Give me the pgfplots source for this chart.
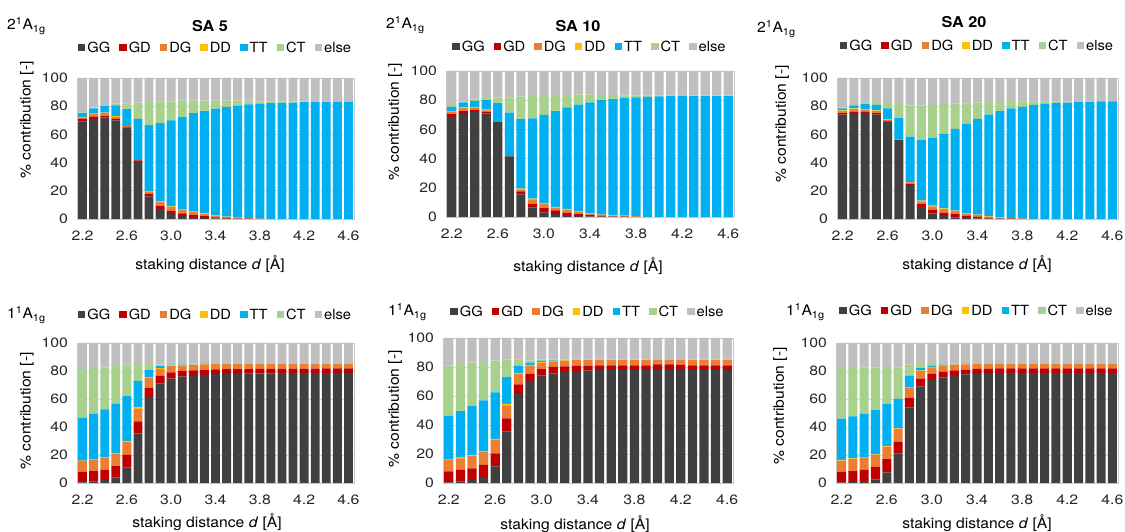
\documentclass[border=0pt]{standalone}
\usepackage{fontspec}
\setmainfont{TeX Gyre Heros}[FakeStretch=1.08]
\newfontfamily\tickfont{TeX Gyre Heros}[FakeStretch=1.17]
\newfontfamily\legfont{TeX Gyre Heros}[FakeStretch=1.05]
\usepackage{pgfplots}
\usepackage{pgfplotstable}
\pgfplotsset{compat=1.18}

\definecolor{cGG}{HTML}{404040}
\definecolor{cGD}{HTML}{C00000}
\definecolor{cDG}{HTML}{ED7D31}
\definecolor{cDD}{HTML}{FFC000}
\definecolor{cTT}{HTML}{00B0F0}
\definecolor{cCT}{HTML}{A9D18E}
\definecolor{cEL}{HTML}{BFBFBF}

% 2^1A_1g, SA 5
\pgfplotstableread{
d GG GD DG DD TT CT EL
2.2 69 2 1 0.5 2.5 0.5 24.5
2.3 71 1.5 2 0.5 3.5 0.5 21
2.4 72 1 2 0.5 4.5 1 19
2.5 70 1 1.5 0.5 7.5 1.5 18
2.6 65 0.3 0.7 0 12 4 18
2.7 41 0.5 0.5 0 29 11.5 17.5
2.8 16 2 1.5 0.5 46.5 16.5 17
2.9 7 2.5 2.5 0.5 55.5 15.5 16.5
3.0 3.5 2.5 2.5 0.5 61 13.5 16.5
3.1 2 2 2.5 0.5 65.5 11.5 16
3.2 1.3 1.7 2 0.5 69.5 9 16
3.3 0.8 1.2 1.5 0.5 72.5 7.5 16
3.4 0.5 0.7 1.1 0.3 75.6 5.8 16
3.5 0.3 0.4 0.7 0.2 77.9 4.5 16
3.6 0.2 0.2 0.4 0.1 79.4 3.7 16
3.7 0.1 0.1 0.3 0 80.8 2.7 16
3.8 0 0.1 0.2 0 81.4 1.8 16.5
3.9 0 0 0.1 0 82.1 1.1 16.7
4.0 0 0 0 0 82.4 0.8 16.8
4.1 0 0 0 0 82.6 0.6 16.8
4.2 0 0 0 0 82.9 0.4 16.7
4.3 0 0 0 0 83 0.3 16.7
4.4 0 0 0 0 83 0.3 16.7
4.5 0 0 0 0 83.3 0.2 16.5
4.6 0 0 0 0 83.3 0.2 16.5
}\twoSAfive

% 2^1A_1g, SA 10
\pgfplotstableread{
d GG GD DG DD TT CT EL
2.2 68.5 2 1.5 0.5 3 0.5 24
2.3 70.5 2 2 0.5 3.5 0.5 21
2.4 72 1.5 1.5 0.5 4 1 19.5
2.5 71 1 1 0.5 6.5 1.5 18.5
2.6 65 0.3 0.3 0 12.4 4 18
2.7 41.5 0.5 0.3 0 29.2 10.5 18
2.8 15.5 2 1.5 0.5 47.5 15.5 17.5
2.9 6.5 2.5 3 0.5 55 15.5 17
3.0 3 3 3 0.5 60.5 13 17
3.1 2 2.5 2 0.5 65.5 11 16.5
3.2 1.2 1.8 2 0.5 69.5 8.5 16.5
3.3 0.8 1.2 1.5 0.5 73 7 16
3.4 0.5 0.7 1.1 0.3 75.9 5.5 16
3.5 0.3 0.4 0.7 0.2 78.4 3.5 16.5
3.6 0.2 0.2 0.6 0.2 79.5 2.8 16.5
3.7 0.1 0.2 0.4 0.2 80.6 1.8 16.7
3.8 0 0.1 0.3 0.1 81.5 1.2 16.8
3.9 0 0 0.1 0 82.2 0.9 16.8
4.0 0 0 0 0 82.6 0.6 16.8
4.1 0 0 0 0 82.8 0.4 16.8
4.2 0 0 0 0 83 0.3 16.7
4.3 0 0 0 0 82.8 0.4 16.8
4.4 0 0 0 0 82.8 0.4 16.8
4.5 0 0 0 0 82.8 0.4 16.8
4.6 0 0 0 0 82.8 0.4 16.8
}\twoSAten

% 2^1A_1g, SA 20
\pgfplotstableread{
d GG GD DG DD TT CT EL
2.2 74 1 1.5 0.5 1.5 0.5 21
2.3 75 1 2 0.5 2 0.5 19
2.4 75 1 1.5 0.5 3.5 1 17.5
2.5 74 1 1.5 0.5 4 2 17
2.6 69 0.5 1 0.2 7.8 4.5 17
2.7 56 0.2 0.2 0 15.1 10 18.5
2.8 24 1 1 0.2 32.3 22 19.5
2.9 8.5 2 2 0.5 43 24.5 19.5
3.0 4 2.5 2.5 0.5 48 23.5 19
3.1 2.2 2.3 2.5 0.5 53 21 18.5
3.2 1.2 2.3 2 0.5 58 18 18
3.3 0.8 1.4 1.6 0.4 63.3 14.5 18
3.4 0.5 1 1.2 0.4 67.9 11.5 17.5
3.5 0.3 0.5 0.9 0.3 72 9 17
3.6 0.2 0.3 0.5 0.2 75.3 6.5 17
3.7 0.1 0.2 0.3 0.1 77.8 4.5 17
3.8 0 0.1 0.2 0 79.2 4 16.5
3.9 0 0 0.1 0 80.9 2.5 16.5
4.0 0 0 0 0 81.8 1.7 16.5
4.1 0 0 0 0 82.3 1 16.7
4.2 0 0 0 0 82.6 0.9 16.5
4.3 0 0 0 0 83 0.5 16.5
4.4 0 0 0 0 83 0.5 16.5
4.5 0 0 0 0 83.5 0.2 16.3
4.6 0 0 0 0 83.5 0.2 16.3
}\twoSAtwenty

% 1^1A_1g, SA 5
\pgfplotstableread{
d GG GD DG DD TT CT EL
2.2 0.5 7.5 7.8 0.2 30.5 35 18.5
2.3 1 7.5 8 0.5 32.5 32.5 18
2.4 2 7.5 8.5 0.5 34 30 17.5
2.5 4 8 9 0.5 35 27 16.5
2.6 11 9 9.5 0.5 32 22.5 15.5
2.7 35.5 8.5 9 1 19 12 15
2.8 61.5 6.5 7 0.5 5.5 4 15
2.9 71 5.5 5 0.5 1.5 1 15.5
3.0 74.5 4.5 4.5 0.5 0.5 0.5 15
3.1 76 4 4 0.3 0.3 0.4 15
3.2 76.5 4 3.8 0.3 0.2 0.4 14.8
3.3 77.3 3.4 4 0.3 0.2 0.1 14.7
3.4 77.8 3.4 3.8 0.2 0.1 0.1 14.6
3.5 78 3.3 3.7 0.2 0.1 0.1 14.6
3.6 78 3.3 3.7 0.2 0.1 0.1 14.6
3.7 78.2 3.2 3.6 0.2 0.1 0.1 14.6
3.8 78.2 3.3 3.5 0.2 0 0.1 14.7
3.9 78.3 3.3 3.4 0.2 0 0.1 14.7
4.0 78.5 3.2 3.3 0.2 0 0.1 14.7
4.1 78.5 3.2 3.3 0.2 0 0.1 14.7
4.2 78.6 3.1 3.3 0.2 0 0.1 14.7
4.3 78.6 3.1 3.3 0.2 0 0.1 14.7
4.4 78.7 3.1 3.2 0.2 0 0.1 14.7
4.5 78.7 3.1 3.2 0.2 0 0.1 14.7
4.6 78.7 3.1 3.2 0.2 0 0.1 14.7
}\oneSAfive

% 1^1A_1g, SA 10
\pgfplotstableread{
d GG GD DG DD TT CT EL
2.2 0.5 7.5 7.8 0.4 30.3 34.5 19
2.3 1.2 7.8 8 0.5 32 32.5 18
2.4 2 8 8.5 0.5 34 30 17
2.5 4 8.5 9 0.5 35 26.5 16.5
2.6 11.5 9 9 1 32 22 15.5
2.7 35.5 9 9 1 18.5 12 15
2.8 61.5 6.5 7.5 0.5 5 4 15
2.9 70.5 5 5.5 0.5 1.5 1.5 15.5
3.0 74 4.5 4.5 0.5 0.7 0.8 15
3.1 75.5 4.5 3.8 0.4 0.4 0.4 15
3.2 76.5 4 3.8 0.3 0.2 0.2 15
3.3 77.2 3.8 3.8 0.2 0.1 0.2 14.7
3.4 77.5 3.5 3.8 0.2 0.1 0.1 14.8
3.5 78 3.2 3.6 0.2 0.1 0.1 14.8
3.6 78 3.2 3.6 0.2 0 0.1 14.9
3.7 78 3.2 3.6 0.2 0 0.1 14.9
3.8 78 3.2 3.6 0.2 0 0.1 14.9
3.9 78 3.2 3.6 0.2 0 0.1 14.9
4.0 78 3.8 3.2 0.2 0 0.1 14.7
4.1 78 3.8 3.2 0.2 0 0.1 14.7
4.2 78.5 3.2 3.3 0.2 0 0.1 14.7
4.3 78 3.2 3.5 0.2 0 0.1 15
4.4 78 3.2 3.5 0.2 0 0.1 15
4.5 78 3.2 3.5 0.2 0 0.1 15
4.6 78 3.2 3.5 0.2 0 0.1 15
}\oneSAten

% 1^1A_1g, SA 20
\pgfplotstableread{
d GG GD DG DD TT CT EL
2.2 0.3 7.7 8 0.5 29.5 36 18
2.3 0.7 7.8 8.5 0.5 30 34.5 18
2.4 1.3 8.2 8.5 0.5 31 33 17.5
2.5 2.5 9 8.5 0.5 31.5 30.5 17.5
2.6 7.5 9.5 9 0.5 30 26.5 17
2.7 21 8.5 9 0.5 21 22.5 17.5
2.8 54 7 7 0.5 8 8 15.5
2.9 69 5.5 5.5 0.5 1.5 3 15
3.0 73.5 4.5 4.5 0.5 0.7 1.3 15
3.1 75.5 4 4.5 0.3 0.3 0.4 15
3.2 76.5 4 4 0.2 0.2 0.3 14.8
3.3 77.5 3.5 3.8 0.2 0.2 0.1 14.7
3.4 78 3.5 3.5 0.2 0.1 0.1 14.6
3.5 78 3.5 3.5 0.2 0.1 0.1 14.6
3.6 78.5 3.3 3.4 0.2 0 0.1 14.5
3.7 78.5 3.3 3.4 0.2 0 0.1 14.5
3.8 78.5 3.3 3.4 0.2 0 0.1 14.5
3.9 78.5 3.3 3.4 0.2 0 0.1 14.5
4.0 78.5 3.3 3.4 0.2 0 0.1 14.5
4.1 78.5 3.3 3.4 0.2 0 0.1 14.5
4.2 78.5 3.3 3.4 0.2 0 0.1 14.5
4.3 78.5 3.3 3.4 0.2 0 0.1 14.5
4.4 78.5 3.3 3.4 0.2 0 0.1 14.5
4.5 78.5 3.3 3.4 0.2 0 0.1 14.5
4.6 78.5 3.3 3.4 0.2 0 0.1 14.5
}\oneSAtwenty

\pgfplotsset{
  contrib/.style={
    scale only axis,
    ybar stacked,
    bar width=0.08,
    xmin=2.15, xmax=4.65,
    ymin=0, ymax=100,
    xtick={2.2,2.6,3.0,3.4,3.8,4.2,4.6},
    xticklabels={2.2,2.6,3.0,3.4,3.8,4.2,4.6},
    ytick={0,20,40,60,80,100},
    yticklabels={0,20,40,60,80,100},
    major tick length=0pt,
    ymajorgrids,
    grid style={draw=black!15, line width=0.8pt},
    axis line style={draw=black!22, line width=0.8pt},
    tick label style={font=\tickfont\fontsize{13.5}{15}\selectfont, text=black!85},
    xticklabel style={yshift=-7pt},
    yticklabel style={xshift=-4pt},
    legend style={draw=none, fill=none, legend columns=-1,
      font=\legfont\fontsize{14}{16}\selectfont,
      /tikz/every even column/.append style={column sep=7pt},
      nodes={inner xsep=2pt}},
    legend cell align=left,
  },
  seg/.style={fill=#1, draw=none,
    legend image code/.code={\fill[#1] (0pt,-3.5pt) rectangle (7.5pt,4pt);}},
}

\newcommand{\contribpanel}[6]{%
  \begin{axis}[contrib, at={(#1pt,#2pt)}, anchor=south west,
      width=#3pt, height=#4pt,
      legend style={at={(0.5,1)}, anchor=center, yshift=#6pt}]
    \addplot[seg=cGG] table[x=d, y=GG]{#5};
    \addplot[seg=cGD] table[x=d, y=GD]{#5};
    \addplot[seg=cDG] table[x=d, y=DG]{#5};
    \addplot[seg=cDD] table[x=d, y=DD]{#5};
    \addplot[seg=cTT] table[x=d, y=TT]{#5};
    \addplot[seg=cCT] table[x=d, y=CT]{#5};
    \addplot[seg=cEL] table[x=d, y=EL]{#5};
    \legend{GG,GD,DG,DD,TT,CT,else}
  \end{axis}}

\newcommand{\ylab}{\% contribution [-]}
\newcommand{\xlab}{staking distance \textit{d} [Å]}
\newcommand{\stateA}[1]{#1\textsuperscript{1}A\textsubscript{1g}}

\begin{document}
\begin{tikzpicture}[x=1pt, y=1pt]
  \path[use as bounding box] (0,0) rectangle (1125,532);
  \fontsize{14.5}{17}\selectfont

  % upper row: 2^1A_1g
  \contribpanel{77}{313}{277}{141}{\twoSAfive}{30}
  \contribpanel{446}{315}{288}{146}{\twoSAten}{24}
  \contribpanel{837}{313}{281}{141}{\twoSAtwenty}{32}
  % lower row: 1^1A_1g
  \contribpanel{77}{49}{277}{140}{\oneSAfive}{28}
  \contribpanel{443}{49}{290}{145}{\oneSAten}{26}
  \contribpanel{836}{49}{282}{140}{\oneSAtwenty}{32}

  % titles
  \node[font=\fontsize{15}{17}\selectfont\bfseries] at (210,506) {SA 5};
  \node[font=\fontsize{15}{17}\selectfont\bfseries] at (578,506) {SA 10};
  \node[font=\fontsize{15}{17}\selectfont\bfseries] at (964,510) {SA 20};

  % electronic states
  \node[anchor=base west, inner sep=0pt] at (7,502) {\stateA{2}};
  \node[anchor=base west, inner sep=0pt] at (386,503) {\stateA{2}};
  \node[anchor=base west, inner sep=0pt] at (757,499) {\stateA{2}};
  \node[anchor=base west, inner sep=0pt] at (7,213) {\stateA{1}};
  \node[anchor=base west, inner sep=0pt] at (388,216) {\stateA{1}};
  \node[anchor=base west, inner sep=0pt] at (786,216) {\stateA{1}};

  % y labels
  \node[rotate=90] at (27,412) {\ylab};
  \node[rotate=90] at (395,410) {\ylab};
  \node[rotate=90] at (782,408) {\ylab};
  \node[rotate=90] at (27,121) {\ylab};
  \node[rotate=90] at (395,123) {\ylab};
  \node[rotate=90] at (780,126) {\ylab};

  % x labels
  \node at (210,268) {\xlab};
  \node at (588,266) {\xlab};
  \node at (977,268) {\xlab};
  \node at (207,10) {\xlab};
  \node at (575,8) {\xlab};
  \node at (977,9) {\xlab};
\end{tikzpicture}
\end{document}
